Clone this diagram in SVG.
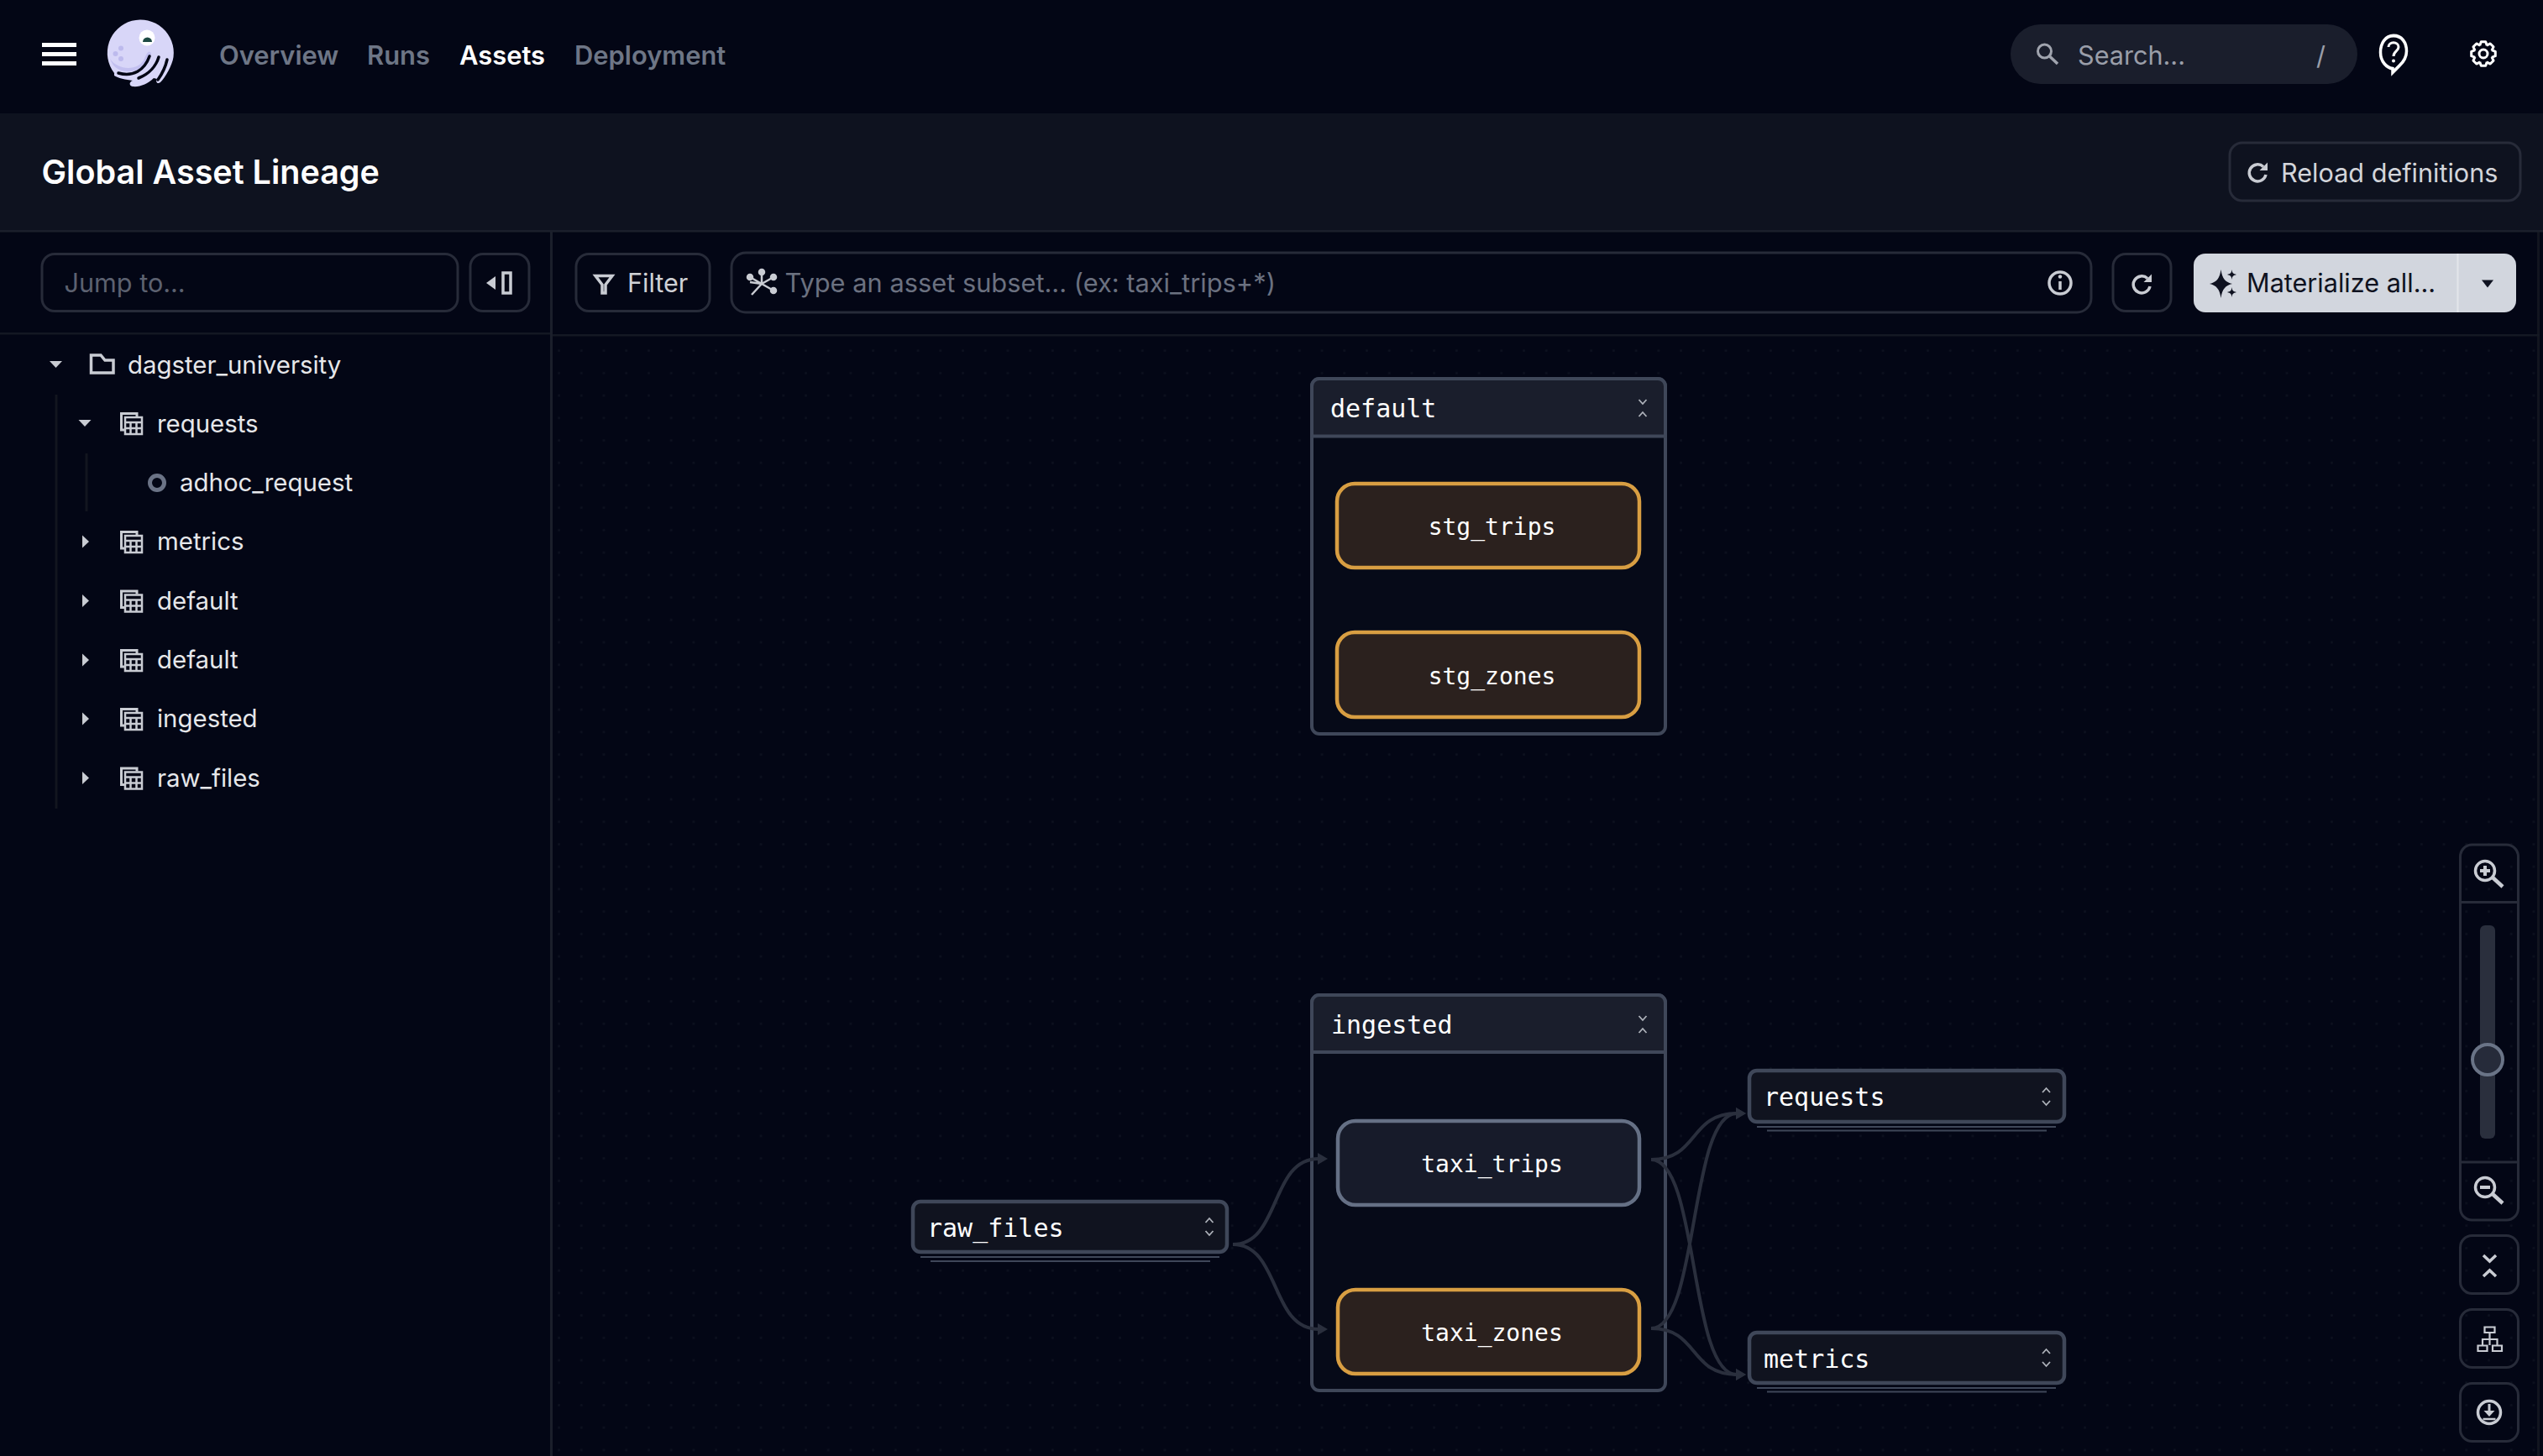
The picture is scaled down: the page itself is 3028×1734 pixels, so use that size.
<svg xmlns="http://www.w3.org/2000/svg" width="3028" height="1734" viewBox="0 0 3028 1734">
<style>
text{font-family:"Inter","Liberation Sans",sans-serif;font-size:30.6px;fill:#e6e7ea}
.side{font-size:29.4px}
.mono{font-family:"DejaVu Sans Mono","Liberation Mono",monospace;font-size:30px;fill:#fff}
.lbl{font-family:"DejaVu Sans Mono","Liberation Mono",monospace;font-size:28px;fill:#fff;text-anchor:middle}
.nav{font-size:30.9px;font-weight:600;fill:#6e7686}
.btn{fill:none;stroke:#272b39;stroke-width:3}
.ic{fill:none;stroke:#c9ccd3;stroke-width:3.5}
.icf{fill:#c9ccd3}
.grp{fill:#060a18;stroke:#3f4759;stroke-width:4}
.grph{fill:#1a1e2c;stroke:#3f4759;stroke-width:4}
.mat{fill:#2b211e;stroke:#d89e42;stroke-width:4.5}
.never{fill:#171b2a;stroke:#657085;stroke-width:4.5}
.col{fill:#10131f;stroke:#3f4759;stroke-width:4.5}
.stk{stroke:#3f4759;stroke-width:2}
.chev{fill:none;stroke:#aeb2ba;stroke-width:1.8}
.edge{fill:none;stroke:#2a2f3d;stroke-width:4;marker-end:url(#arr)}
.guide{stroke:#12151f;stroke-width:3}
</style>
<defs>
<pattern id="dots" patternUnits="userSpaceOnUse" x="1533.94" y="430.94" width="26.72" height="26.72"><rect x="12.2" y="12.2" width="2.4" height="2.4" fill="#0e1220"/></pattern>
<marker id="arr" viewBox="0 0 12 14" refX="1" refY="7" markerUnits="userSpaceOnUse" markerWidth="12" markerHeight="14" orient="auto"><path d="M0,0L12,7L0,14Z" fill="#2a2f3d"/></marker>
<g id="table"><path d="M6,22H2.5V2.5H21V6" fill="none" stroke="#c9ccd3" stroke-width="3"/><path d="M7,7H27V27H7Z M7,13H27 M7,20H27 M13.5,13V27 M20.500,13V27" fill="none" stroke="#c9ccd3" stroke-width="2.5"/></g>
<path id="tri-r" d="M0,-7.5L8,0L0,7.5Z" fill="#c9ccd3"/>
<path id="tri-d" d="M-7.5,-4L7.5,-4L0,4Z" fill="#c9ccd3"/>
<path id="updown" d="M-4.5,-5L0,-10L4.5,-5M-4.5,5L0,10L4.5,5" class="chev"/>
<path id="downup" d="M-4.5,-10L0,-5L4.5,-10M-4.5,10L0,5L4.5,10" class="chev"/>
<g id="refresh"><path d="M7,-6.500A10,10 0 1 0 10,3" class="ic"/><path d="M12,-11.500V-2H2.500Z" class="icf"/></g>
<path id="tooth" d="M-4.300,-9.800L-2.700,-14.300H2.700L4.300,-9.800" fill="none" stroke="#fff" stroke-width="3" stroke-linejoin="round"/>
</defs>
<rect width="3028" height="1734" fill="#030615"/>
<rect x="660" y="400" width="2368" height="1334" fill="url(#dots)"/>
<rect x="3021" y="276" width="3" height="1458" fill="#12151f"/>
<rect y="135" width="3028" height="139" fill="#0e121f"/>
<rect y="274" width="3028" height="2.5" fill="#1b1f2b"/>
<rect x="655" y="276" width="3" height="1458" fill="#1b1f2b"/>
<rect x="0" y="396" width="655" height="2.5" fill="#141823"/>
<rect x="658" y="398" width="2366" height="2.5" fill="#141823"/>

<g id="topbar">
<path d="M50,53.5H91M50,64.5H91M50,75.5H91" stroke="#fff" stroke-width="5"/>
<g id="logo">
<path d="M136,87A39.500,39.500 0 1 1 206.500,68C205,78 197,92 191,98C187,101 185,97 187,94L183,93C176,100 166,104 158,103C153,102 154,97 158,96C150,95 140,93 136,90Z" fill="#d8d6f8"/>
<path d="M131,70C140,84 165,85 172,70C175,62 178,59 180,64C176,80 160,88 145,84C138,82 134,78 131,70Z" fill="#c3c0f0"/>
<path d="M141,87C158,92 172,84 178,67M165,93C178,88 186,78 189,68M188,95C193,88 197,80 199,71" fill="none" stroke="#030615" stroke-width="3.500" stroke-linecap="round"/>
<circle cx="175" cy="45" r="9.500" fill="#fff"/><path d="M170,50A5.500,5.500 0 0 1 181,50Z" fill="#1d4a44"/>
<circle cx="144" cy="57.500" r="3" fill="#bdbaed"/><circle cx="137.500" cy="64" r="3" fill="#bdbaed"/><circle cx="144" cy="70" r="3" fill="#bdbaed"/>
</g>
<text class="nav" x="261" y="76.500">Overview</text>
<text class="nav" x="437" y="76.500">Runs</text>
<text class="nav" x="547" y="76.500" style="fill:#fff">Assets</text>
<text class="nav" x="684" y="76.500">Deployment</text>
<rect x="2394" y="29" width="413" height="71" rx="35.500" fill="#1a1e2c"/>
<circle cx="2434.500" cy="61" r="8" fill="none" stroke="#a0a4ae" stroke-width="3"/><path d="M2440.500,67L2450,76" stroke="#a0a4ae" stroke-width="3.500"/>
<text x="2474" y="76.500" style="fill:#9a9ea9">Search...</text>
<text x="2758" y="76.500" style="fill:#9a9ea9">/</text>
<path d="M2850,46C2840,46 2834.500,54 2834.500,63C2834.500,73 2842,79 2849,80V84L2857,77C2862,73 2865.500,69 2865.500,62C2865.500,53 2860,46 2850,46Z" transform="translate(0,-1) translate(2850,62) scale(1,1.15) translate(-2850,-62)" fill="none" stroke="#fff" stroke-width="3.500"/>
<path d="M2844,56C2844,49 2856,49 2856,56C2856,61 2850,61 2850,67" fill="none" stroke="#fff" stroke-width="3"/><circle cx="2850" cy="72.500" r="2" fill="#fff"/>
<g id="gear" transform="translate(2957,64)">
<use href="#tooth"/><use href="#tooth" transform="rotate(45)"/><use href="#tooth" transform="rotate(90)"/><use href="#tooth" transform="rotate(135)"/><use href="#tooth" transform="rotate(180)"/><use href="#tooth" transform="rotate(225)"/><use href="#tooth" transform="rotate(270)"/><use href="#tooth" transform="rotate(315)"/>
<circle r="5" fill="none" stroke="#fff" stroke-width="3"/></g>
</g>

<g id="pageheader">
<text x="49.500" y="219" style="font-size:39.5px;font-weight:600;fill:#fff">Global Asset Lineage</text>
<rect x="2655" y="170" width="346" height="69" rx="15" class="btn"/>
<use href="#refresh" x="2688" y="205"/>
<text x="2716" y="216.500" style="fill:#d3d5da">Reload definitions</text>
</g>

<g id="toolbar">
<rect x="50" y="302.500" width="495" height="68" rx="15" class="btn"/>
<text x="76.500" y="347.500" style="fill:#5c6170">Jump to...</text>
<rect x="560" y="302.500" width="70" height="68" rx="15" class="btn"/>
<path d="M590,329V345L579,337Z" class="icf"/><rect x="599" y="325" width="9" height="24" class="ic"/>
<rect x="686" y="302.500" width="159" height="68" rx="15" class="btn"/>
<path d="M709,328.500H729L721,339V349H717V339Z" class="ic"/>
<text x="747" y="347.500" style="fill:#cfd1d6">Filter</text>
<rect x="871" y="301" width="1619" height="71" rx="17" class="btn"/>
<g id="query-icon" stroke="#c9ccd3" stroke-width="2.500" fill="#c9ccd3"><path d="M907,338V324M907,338L893,330M907,338L921,330M907,338L921,346M907,338L893,336M907,338L895,351" fill="none"/><circle cx="907" cy="324" r="3"/><circle cx="893" cy="330" r="3"/><circle cx="921" cy="330" r="3"/><circle cx="921" cy="346" r="3"/></g>
<text x="934.500" y="347.500" style="fill:#6b7180;font-size:30.8px">Type an asset subset... (ex: taxi_trips+*)</text>
<circle cx="2453" cy="337" r="13" class="ic"/><path d="M2453,335V345" stroke="#c9ccd3" stroke-width="3.500"/><circle cx="2453" cy="329.500" r="2.200" class="icf"/>
<rect x="2516" y="302.500" width="69" height="68" rx="15" class="btn"/>
<use href="#refresh" x="2550" y="338"/>
<rect x="2612" y="302" width="384" height="70" rx="14" fill="#d2d6de"/>
<rect x="2925.500" y="302" width="2" height="70" fill="#e3e5ea"/>
<path d="M2644.500,321C2646,332 2650,336 2658,338C2650,340 2646,344 2644.500,355C2643,344 2639,340 2631,338C2639,336 2643,332 2644.500,321ZM2657.500,321C2658,325 2659,326 2663,327C2659,328 2658,329 2657.500,333C2657,329 2656,328 2652,327C2656,326 2657,325 2657.500,321ZM2657.500,342C2658,346 2659,347 2663,348C2659,349 2658,350 2657.500,354C2657,350 2656,349 2652,348C2656,347 2657,346 2657.500,342Z" fill="#0f1220"/>
<text x="2675" y="347.500" style="fill:#0f1220">Materialize all...</text>
<path d="M2955,333.500H2969L2962,342.500Z" fill="#0f1220"/>
</g>

<g id="sidebar">
<path class="guide" d="M67,470V963M103,540V609"/>
<use href="#tri-d" x="66.500" y="434"/>
<path d="M108.500,423H120L125,429H135V444H108.500Z" class="ic"/>
<text class="side" x="152" y="445">dagster_university</text>
<use href="#tri-d" x="101" y="504"/><use href="#table" x="142" y="490"/><text class="side" x="187" y="515">requests</text>
<circle cx="187" cy="575" r="8.500" fill="none" stroke="#6b7386" stroke-width="5"/><text class="side" x="214" y="585">adhoc_request</text>
<use href="#tri-r" x="98" y="645"/><use href="#table" x="142" y="631"/><text class="side" x="187" y="655">metrics</text>
<use href="#tri-r" x="98" y="715.500"/><use href="#table" x="142" y="701.500"/><text class="side" x="187" y="726">default</text>
<use href="#tri-r" x="98" y="786"/><use href="#table" x="142" y="772"/><text class="side" x="187" y="796">default</text>
<use href="#tri-r" x="98" y="856"/><use href="#table" x="142" y="842"/><text class="side" x="187" y="866">ingested</text>
<use href="#tri-r" x="98" y="926.500"/><use href="#table" x="142" y="912.500"/><text class="side" x="187" y="937">raw_files</text>
</g>

<g id="group-default">
<rect class="grp" x="1562" y="451" width="421" height="423" rx="9"/>
<path class="grph" d="M1562,519.500V460A9,9 0 0 1 1571,451H1974A9,9 0 0 1 1983,460V519.500Z"/>
<text class="mono" x="1584" y="497">default</text>
<use href="#downup" x="1956" y="486"/>
</g>
<g id="node-stg_trips"><rect class="mat" x="1592" y="576" width="360" height="100" rx="21"/><text class="lbl" x="1776.500" y="637">stg_trips</text></g>
<g id="node-stg_zones"><rect class="mat" x="1592" y="753" width="360" height="101" rx="21"/><text class="lbl" x="1776.500" y="815">stg_zones</text></g>

<g id="group-ingested">
<rect class="grp" x="1562" y="1185" width="421" height="471" rx="9"/>
<path class="grph" d="M1562,1253V1194A9,9 0 0 1 1571,1185H1974A9,9 0 0 1 1983,1194V1253Z"/>
<text class="mono" x="1585" y="1231">ingested</text>
<use href="#downup" x="1956" y="1220"/>
</g>
<g id="node-taxi_trips"><rect class="never" x="1593" y="1335" width="359" height="100" rx="21"/><text class="lbl" x="1776.500" y="1396">taxi_trips</text></g>
<g id="node-taxi_zones"><rect class="mat" x="1593" y="1536" width="359" height="100" rx="21"/><text class="lbl" x="1776.500" y="1597">taxi_zones</text></g>

<g id="node-raw_files">
<path class="stk" d="M1096,1497H1452M1108,1502H1441"/>
<rect class="col" x="1087" y="1431" width="374" height="60" rx="9"/>
<text class="mono" x="1104" y="1473">raw_files</text>
<use href="#updown" x="1440" y="1461"/>
</g>
<g id="node-requests">
<path class="stk" d="M2092,1342H2448M2104,1346.500H2437"/>
<rect class="col" x="2083" y="1275" width="375" height="61" rx="9"/>
<text class="mono" x="2100" y="1317">requests</text>
<use href="#updown" x="2436.500" y="1306"/>
</g>
<g id="node-metrics">
<path class="stk" d="M2092,1653H2448M2104,1657.500H2437"/>
<rect class="col" x="2083" y="1587" width="375" height="60" rx="9"/>
<text class="mono" x="2100" y="1628.500">metrics</text>
<use href="#updown" x="2436.500" y="1617"/>
</g>

<g id="connectors">
<path class="edge" d="M1468,1482C1525,1482 1512,1380 1570,1380"/>
<path class="edge" d="M1468,1482C1525,1482 1512,1583 1570,1583"/>
<path class="edge" d="M1966,1381C2023,1381 2011,1637 2068,1637"/>
<path class="edge" d="M1966,1582C2023,1582 2011,1326 2068,1326"/>
<path class="edge" d="M1966,1381C2023,1381 2011,1326 2068,1326"/>
<path class="edge" d="M1966,1582C2023,1582 2011,1637 2068,1637"/>
</g>

<g id="zoomcontrols">
<rect x="2929.500" y="1006" width="69" height="447" rx="14" class="btn"/>
<path d="M2930,1074.500H2998M2930,1384H2998" class="btn"/>
<circle cx="2959" cy="1037" r="11.500" class="ic"/><path d="M2953,1037H2965M2959,1031V1043" stroke="#c9ccd3" stroke-width="4"/><path d="M2968,1045L2980,1056" stroke="#c9ccd3" stroke-width="4.500"/>
<rect x="2953" y="1102" width="18" height="254" rx="6" fill="#2a2f3d"/>
<circle cx="2962" cy="1262" r="18" fill="#262b3a" stroke="#6a7487" stroke-width="4"/>
<circle cx="2959" cy="1414" r="11.500" class="ic"/><path d="M2953,1414H2965" stroke="#c9ccd3" stroke-width="4"/><path d="M2968,1422L2980,1433" stroke="#c9ccd3" stroke-width="4.500"/>
<rect x="2929.500" y="1471.500" width="69" height="69" rx="14" class="btn"/>
<path d="M2957,1495L2964.500,1502L2972,1495M2957,1520L2964.500,1513L2972,1520" class="ic"/>
<rect x="2929.500" y="1559.500" width="69" height="69" rx="14" class="btn"/>
<path d="M2958.500,1580.500H2970.500V1587H2958.500Z M2950.500,1602.500H2961.500V1609H2950.500Z M2968,1602.500H2979V1609H2968Z M2964.500,1587V1602M2956,1602V1595H2973.500V1602" fill="none" stroke="#c9ccd3" stroke-width="2.200"/>
<rect x="2929.500" y="1647.500" width="69" height="69" rx="14" class="btn"/>
<circle cx="2964" cy="1682" r="13.500" class="ic"/><path d="M2964,1672V1682" stroke="#c9ccd3" stroke-width="3"/><path d="M2957.500,1680H2970.500L2964,1687Z" class="icf"/><path d="M2956.500,1690H2971.500" stroke="#c9ccd3" stroke-width="2.500"/>
</g>
</svg>
